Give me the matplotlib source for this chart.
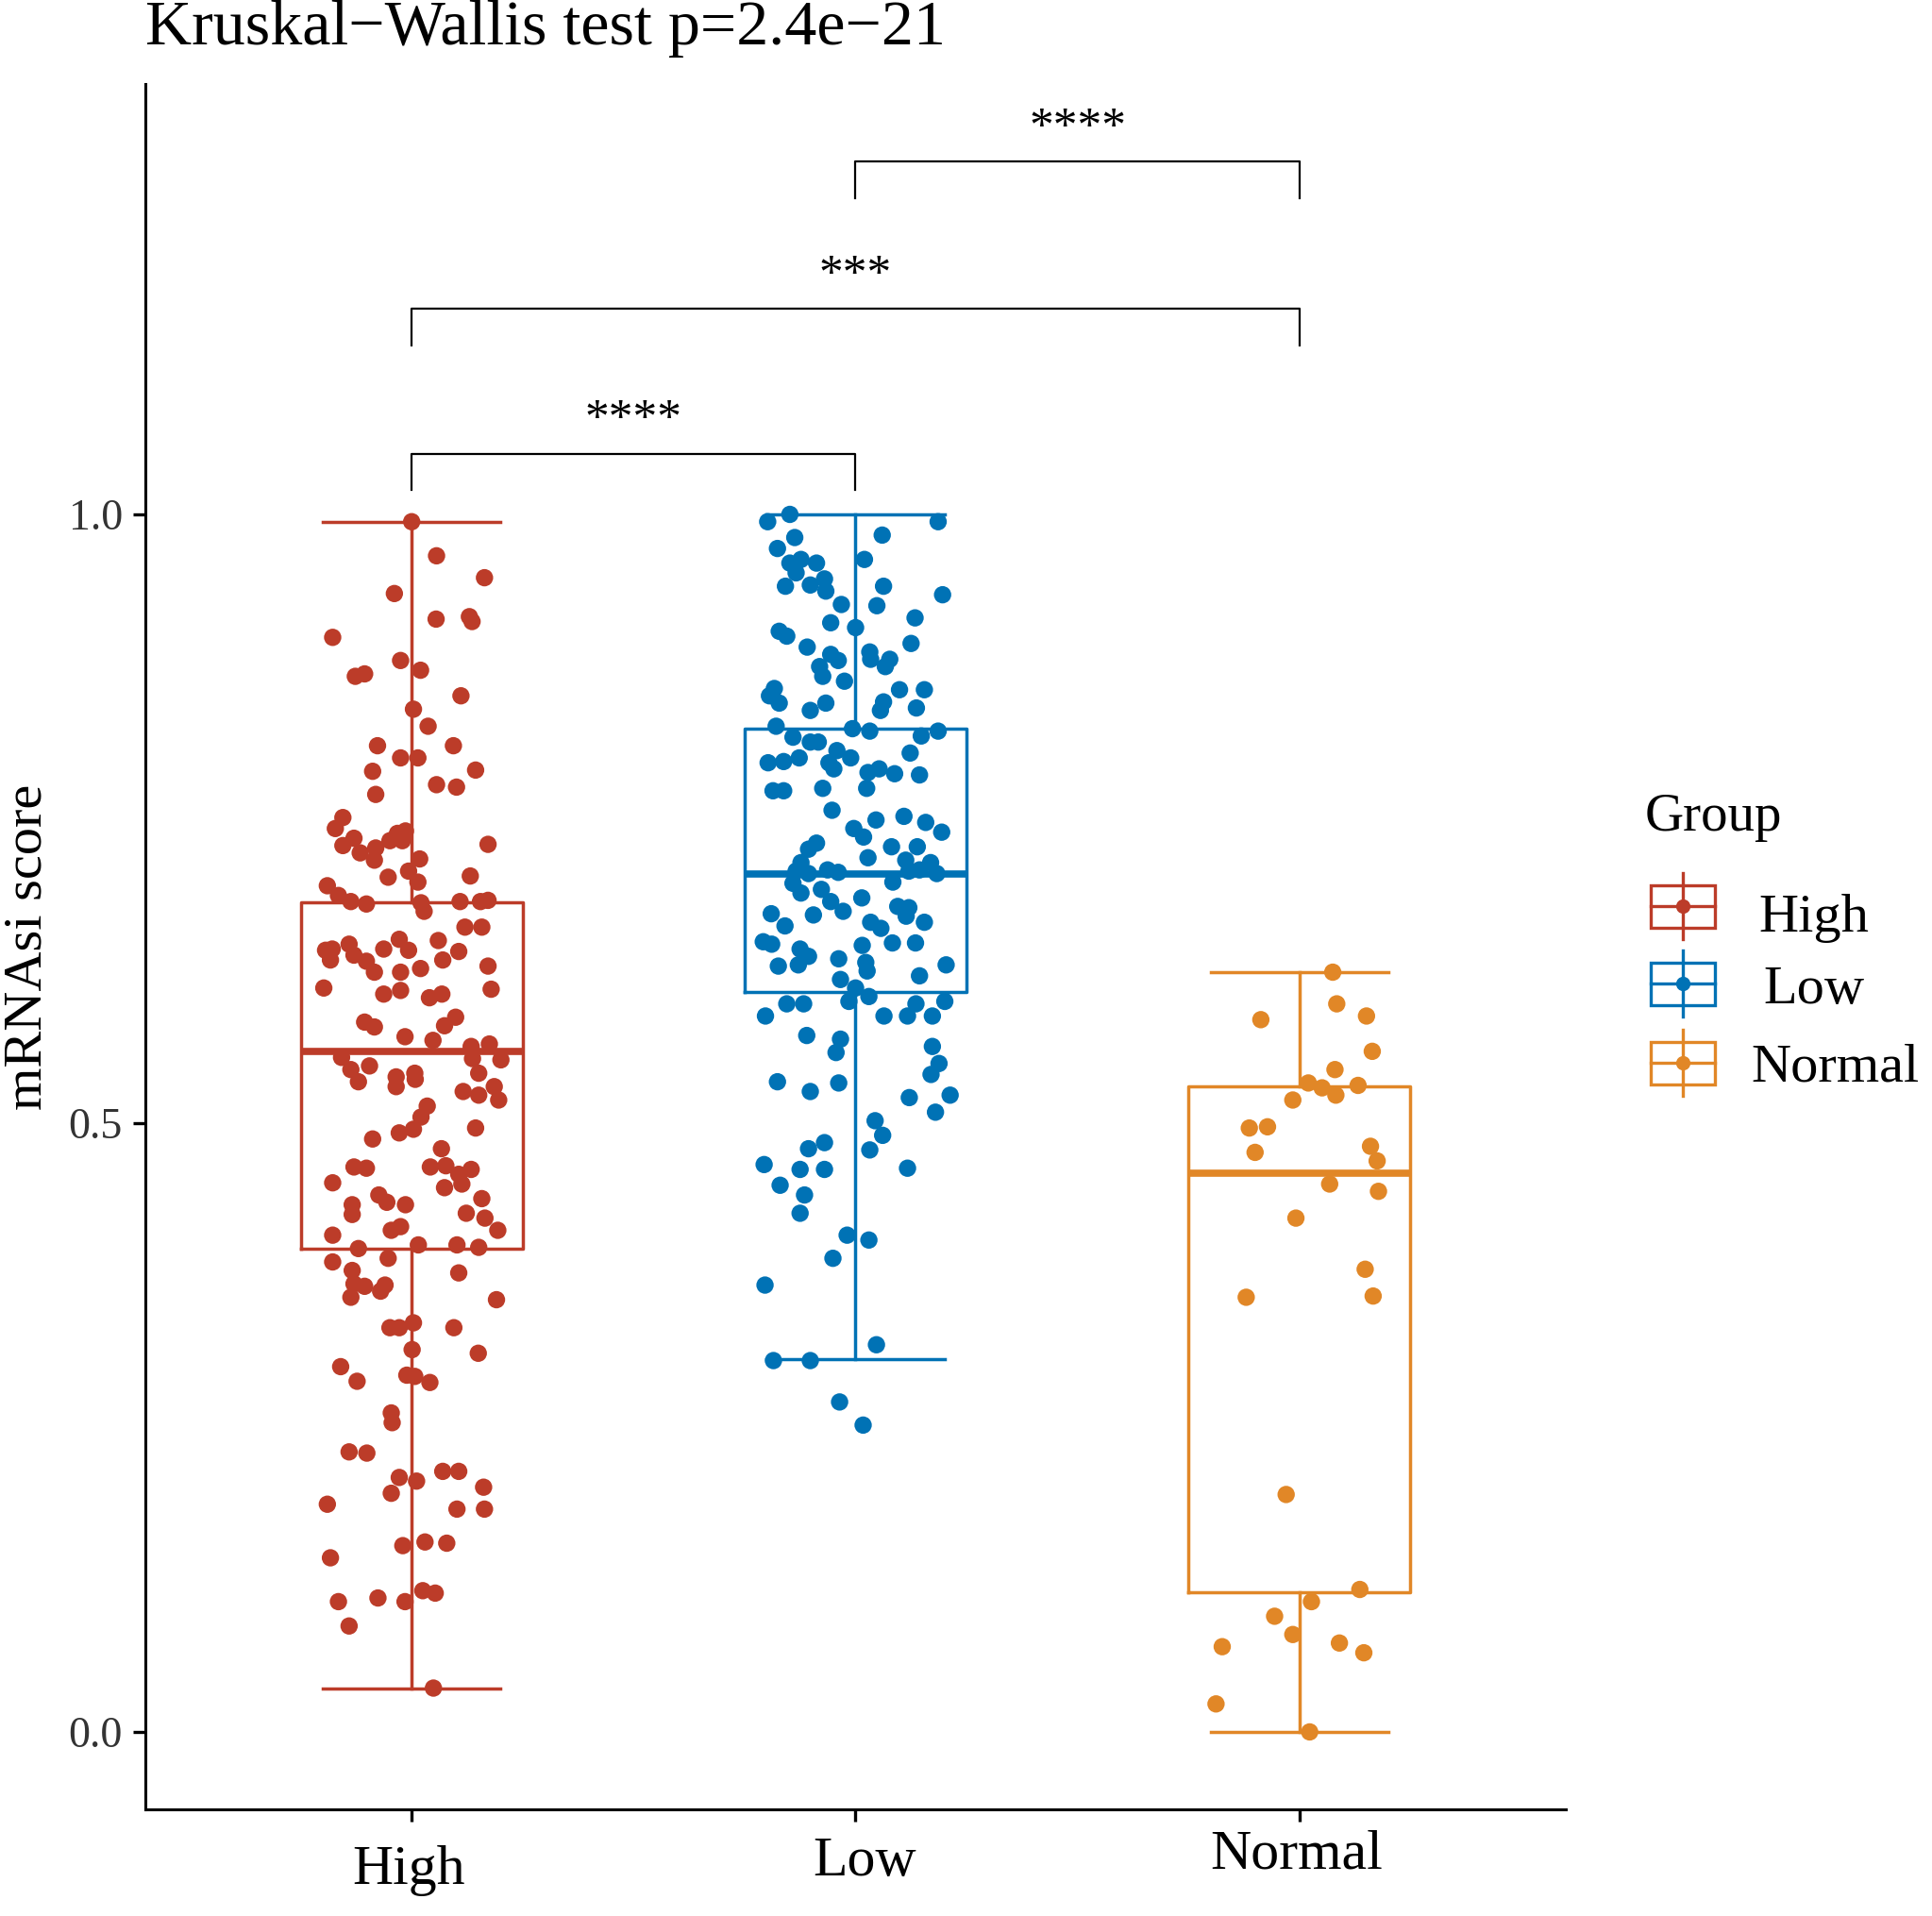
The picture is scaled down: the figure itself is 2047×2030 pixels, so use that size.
import matplotlib.pyplot as plt
from matplotlib.patches import Rectangle
from matplotlib.transforms import ScaledTranslation

plt.rcParams['font.family'] = ['Liberation Serif', 'DejaVu Serif']

groups = ['High', 'Low', 'Normal']
colors = ['#BC3C29', '#0072B5', '#E18727']

# box summaries
whislo = [0.036, 0.306, 0.0]
q1 = [0.397, 0.608, 0.115]
med = [0.559, 0.705, 0.459]
q3 = [0.681, 0.824, 0.530]
whishi = [0.994, 1.0, 0.624]

# jittered points: (x offset from group centre, mRNAsi score)
high_pts = [
    (0, 0.994), (0.056, 0.966), (0.164, 0.948), (-0.039, 0.935), (0.055, 0.914), (0.130, 0.916),
    (0.136, 0.912), (-0.178, 0.899), (-0.025, 0.880), (0.020, 0.872), (-0.127, 0.867), (-0.106, 0.869),
    (0.111, 0.851), (0.004, 0.840), (0.037, 0.826), (-0.077, 0.810), (0.094, 0.810), (-0.025, 0.800),
    (0.014, 0.800), (-0.088, 0.789), (0.144, 0.790), (-0.081, 0.770), (0.056, 0.778), (0.101, 0.776),
    (-0.155, 0.751), (-0.172, 0.742), (-0.130, 0.734), (-0.155, 0.728), (-0.116, 0.722), (-0.081, 0.726),
    (-0.084, 0.716), (-0.049, 0.732), (-0.032, 0.738), (-0.014, 0.740), (-0.021, 0.732), (0.172, 0.729),
    (0.018, 0.717), (-0.007, 0.707), (-0.053, 0.702), (0.014, 0.698), (0.132, 0.703), (-0.190, 0.695),
    (-0.165, 0.687), (-0.137, 0.682), (-0.102, 0.680), (0.021, 0.681), (0.028, 0.674), (0.109, 0.682),
    (0.155, 0.682), (0.172, 0.683), (0.120, 0.661), (0.158, 0.661),
    (-0.194, 0.642), (-0.179, 0.643), (-0.183, 0.634), (-0.141, 0.647), (-0.130, 0.638), (-0.102, 0.633),
    (-0.084, 0.624), (-0.063, 0.643), (-0.028, 0.651), (-0.007, 0.642), (-0.025, 0.624), (-0.025, 0.609),
    (-0.063, 0.606), (0.020, 0.627), (0.060, 0.650), (0.070, 0.634), (0.106, 0.641), (0.172, 0.629),
    (0.179, 0.610), (-0.198, 0.611), (0.040, 0.603), (0.068, 0.606), (-0.106, 0.583), (-0.084, 0.579),
    (0.074, 0.580), (0.099, 0.587), (-0.015, 0.571), (0.048, 0.568), (0.134, 0.563), (0.175, 0.565),
    (-0.158, 0.554), (-0.137, 0.544), (-0.120, 0.534), (-0.095, 0.547), (-0.035, 0.538), (-0.035, 0.530),
    (0.007, 0.541), (0.008, 0.536), (0.137, 0.553), (0.201, 0.552), (0.151, 0.541), (0.116, 0.526),
    (0.151, 0.523), (0.186, 0.530), (0.196, 0.519), (0.035, 0.514), (0.021, 0.505), (0.004, 0.495),
    (-0.028, 0.492), (-0.088, 0.487), (0.144, 0.496), (0.067, 0.479), (0.042, 0.464), (0.077, 0.465),
    (0.106, 0.458), (0.134, 0.462), (0.113, 0.450), (0.074, 0.447), (-0.130, 0.464), (-0.102, 0.463),
    (-0.178, 0.451), (-0.074, 0.441), (-0.056, 0.435), (-0.014, 0.433), (-0.134, 0.433), (-0.134, 0.425),
    (0.158, 0.438), (0.123, 0.426), (0.165, 0.422), (0.194, 0.412), (-0.046, 0.412), (-0.025, 0.415),
    (-0.178, 0.408), (-0.120, 0.397), (0.015, 0.400), (0.102, 0.400), (0.151, 0.398), (-0.053, 0.389),
    (-0.178, 0.386), (-0.134, 0.379), (-0.130, 0.368), (-0.106, 0.366), (-0.060, 0.367), (-0.070, 0.362),
    (-0.137, 0.357), (0.106, 0.377), (0.191, 0.355), (-0.049, 0.332), (-0.028, 0.332), (0.004, 0.336),
    (0.095, 0.332),
    (0.001, 0.314), (0.150, 0.311), (-0.160, 0.300), (-0.123, 0.288), (-0.011, 0.293), (0.007, 0.292),
    (0.041, 0.287), (-0.046, 0.262), (-0.044, 0.254), (-0.141, 0.230), (-0.101, 0.229), (0.070, 0.214),
    (0.106, 0.214), (-0.028, 0.209), (0.011, 0.206), (-0.046, 0.196), (0.162, 0.201), (-0.190, 0.187),
    (0.102, 0.183), (0.164, 0.183), (-0.020, 0.153), (0.030, 0.156), (0.079, 0.155), (-0.183, 0.143),
    (-0.165, 0.107), (-0.076, 0.110), (-0.015, 0.107), (0.025, 0.116), (0.053, 0.114), (-0.141, 0.087),
    (0.049, 0.036),
]

low_pts = [
    (-0.198, 0.994), (-0.148, 1.0), (0.186, 0.994), (0.060, 0.983), (-0.137, 0.981), (-0.176, 0.972),
    (0.020, 0.963), (-0.148, 0.960), (-0.123, 0.963), (-0.088, 0.960), (-0.134, 0.952), (-0.070, 0.947),
    (-0.158, 0.941), (-0.102, 0.942), (-0.067, 0.937), (0.063, 0.941), (0.196, 0.934), (-0.032, 0.926),
    (0.048, 0.925), (0.134, 0.915), (-0.056, 0.911), (0.0, 0.907), (-0.172, 0.904), (-0.155, 0.900),
    (-0.109, 0.891), (0.125, 0.894), (-0.056, 0.885), (-0.039, 0.880), (0.032, 0.887), (0.034, 0.881),
    (0.077, 0.881), (0.067, 0.875), (-0.081, 0.875), (-0.074, 0.867), (-0.025, 0.863), (-0.183, 0.857),
    (-0.194, 0.851), (-0.172, 0.845), (0.099, 0.856), (0.155, 0.856), (0.063, 0.846), (0.056, 0.839),
    (0.137, 0.841), (-0.102, 0.839), (-0.067, 0.845), (-0.179, 0.826), (-0.007, 0.824), (0.032, 0.822),
    (0.186, 0.822), (0.148, 0.818), (-0.141, 0.817), (-0.102, 0.813), (-0.084, 0.813), (-0.197, 0.796),
    (-0.162, 0.797), (-0.127, 0.800), (-0.042, 0.806), (-0.011, 0.800), (-0.060, 0.796), (-0.049, 0.791),
    (0.123, 0.804), (0.028, 0.788), (0.053, 0.791), (0.088, 0.787), (0.025, 0.775), (0.144, 0.786),
    (-0.186, 0.773), (-0.162, 0.773), (-0.074, 0.775), (-0.053, 0.757), (0.046, 0.749), (0.109, 0.752),
    (-0.004, 0.742), (0.018, 0.735), (0.158, 0.747), (0.194, 0.739), (-0.088, 0.730), (-0.106, 0.725),
    (0.081, 0.727), (0.139, 0.727), (0.028, 0.718), (-0.123, 0.714), (0.113, 0.716), (0.169, 0.714),
    (-0.134, 0.707), (-0.106, 0.705), (-0.063, 0.708), (-0.039, 0.706), (0.120, 0.707), (0.144, 0.708),
    (0.183, 0.705), (0.084, 0.698), (-0.141, 0.697), (-0.123, 0.689), (-0.077, 0.692), (-0.056, 0.682),
    (0.014, 0.685), (0.095, 0.678), (0.120, 0.677), (-0.190, 0.672), (-0.095, 0.671), (-0.028, 0.674),
    (-0.159, 0.662), (0.034, 0.665), (0.057, 0.660), (0.155, 0.665), (0.114, 0.670), (-0.208, 0.649),
    (-0.189, 0.647), (-0.125, 0.643), (-0.106, 0.637), (-0.174, 0.629), (-0.129, 0.630), (-0.038, 0.635),
    (0.015, 0.646), (0.023, 0.632), (0.026, 0.625), (0.083, 0.648), (0.135, 0.648), (0.204, 0.630),
    (0.144, 0.621), (-0.034, 0.618), (0.0, 0.611), (0.030, 0.604), (-0.015, 0.600), (-0.155, 0.598),
    (-0.117, 0.598), (-0.203, 0.588), (0.064, 0.588), (0.117, 0.588), (0.136, 0.598), (0.173, 0.588),
    (0.201, 0.600), (-0.110, 0.572), (-0.034, 0.569), (-0.044, 0.558), (0.173, 0.563), (0.188, 0.549),
    (0.170, 0.540), (-0.176, 0.534), (-0.102, 0.526), (-0.038, 0.533), (0.121, 0.521), (0.213, 0.523),
    (0.180, 0.509), (0.044, 0.502), (0.061, 0.490), (0.032, 0.478), (-0.070, 0.484), (-0.106, 0.479),
    (-0.206, 0.466), (-0.125, 0.462), (-0.070, 0.462), (0.117, 0.463), (-0.170, 0.449), (-0.115, 0.441),
    (-0.125, 0.426), (-0.019, 0.408), (0.030, 0.404), (-0.051, 0.389), (-0.204, 0.367), (0.047, 0.318),
    (-0.185, 0.305), (-0.102, 0.305), (-0.036, 0.271), (0.017, 0.252),
]

normal_pts = [
    (0.075, 0.624), (0.084, 0.598), (0.151, 0.588), (-0.087, 0.585), (0.164, 0.559), (0.080, 0.544),
    (0.020, 0.533), (0.051, 0.529), (0.082, 0.523), (0.132, 0.531), (-0.015, 0.519), (-0.113, 0.496),
    (-0.072, 0.497), (-0.100, 0.476), (0.160, 0.481), (0.175, 0.469), (0.068, 0.450), (0.178, 0.444),
    (-0.008, 0.422), (0.148, 0.380), (-0.120, 0.357), (0.166, 0.358), (-0.030, 0.195), (0.136, 0.117),
    (0.027, 0.107), (-0.056, 0.095), (-0.015, 0.080), (-0.174, 0.070), (0.090, 0.073), (0.145, 0.065),
    (-0.188, 0.023), (0.023, 0.0),
]

pairs = [(1, 2), (1, 3), (2, 3)]
pair_y = [1.050, 1.169, 1.290]
pair_labels = ['****', '***', '****']

fig = plt.figure(figsize=(20.47, 20.30), dpi=100)
ax = fig.add_axes([154 / 2047, 1 - 1917 / 2030, 1505 / 2047, 1828 / 2030])

for i, c in enumerate(colors):
    st = dict(whislo=whislo[i], q1=q1[i], med=med[i], q3=q3[i], whishi=whishi[i], fliers=[])
    ax.bxp([st], positions=[i + 1], widths=0.5, capwidths=0.4, showfliers=False,
           boxprops=dict(color=c, lw=2.5), whiskerprops=dict(color=c, lw=2.5),
           capprops=dict(color=c, lw=2.5), medianprops=dict(color=c, lw=5.5))

for i, pts in enumerate([high_pts, low_pts, normal_pts]):
    jit, ys = zip(*pts)
    ax.scatter([i + 1 + d for d in jit], ys, s=175, color=colors[i], edgecolors='none', zorder=3)

# significance brackets
for (a, b), y, lab in zip(pairs, pair_y, pair_labels):
    ax.plot([a, a, b, b], [y - 0.03, y, y, y - 0.03], color='black', lw=1.6)
    ax.text((a + b) / 2, y + 0.018, lab, ha='center', va='baseline', fontsize=37)

ax.set_xlim(0.4, 3.6)
ax.set_ylim(-0.0636, 1.3535)
for s in ['top', 'right']:
    ax.spines[s].set_visible(False)
for s in ['left', 'bottom']:
    ax.spines[s].set_linewidth(2.2)

ax.set_yticks([0, 0.5, 1.0])
ax.set_yticklabels(['0.0', '0.5', '1.0'])
ax.tick_params(axis='y', length=9.4, width=2.4, labelsize=33, pad=8, labelcolor='#333333')
ax.set_xticks([1, 2, 3])
ax.set_xticklabels(groups)
ax.tick_params(axis='x', length=9.4, width=2.4, labelsize=43, pad=18)

# the reference's x labels sit at slightly different heights
offsets = [(-3, 0), (10, 9), (-3, 17)]
for lbl, (dx, dy) in zip(ax.get_xticklabels(), offsets):
    lbl.set_transform(lbl.get_transform() + ScaledTranslation(dx / 100, dy / 100, fig.dpi_scale_trans))

ax.set_ylabel('mRNAsi score', fontsize=42, va='center')
ax.yaxis.set_label_coords((29 - 154) / 1505, 0.5)
ax.set_title('Kruskal−Wallis test p=2.4e−21', loc='left', fontsize=49, pad=30)

# legend drawn in figure pixels
lax = fig.add_axes([0, 0, 1, 1])
lax.set_xlim(0, 2047)
lax.set_ylim(2030, 0)
lax.axis('off')
lax.text(1743, 880, 'Group', fontsize=41, ha='left', va='baseline')
key_y = [960, 1042, 1126]
lab_x = [1863, 1868, 1855]
lab_base = [987, 1063, 1145]
for c, g, ky, lx, lb in zip(colors, groups, key_y, lab_x, lab_base):
    lax.plot([1783, 1783], [ky - 35, ky + 35], color=c, lw=2.4)
    lax.add_patch(Rectangle((1749, ky - 22.5), 68, 45, facecolor='white', edgecolor=c, lw=2.4))
    lax.plot([1749, 1817], [ky, ky], color=c, lw=2.4)
    lax.plot([1783], [ky], 'o', color=c, ms=11, mec='none')
    lax.text(lx, lb, g, fontsize=42, ha='left', va='baseline')

fig.savefig('out.png', dpi=100)
